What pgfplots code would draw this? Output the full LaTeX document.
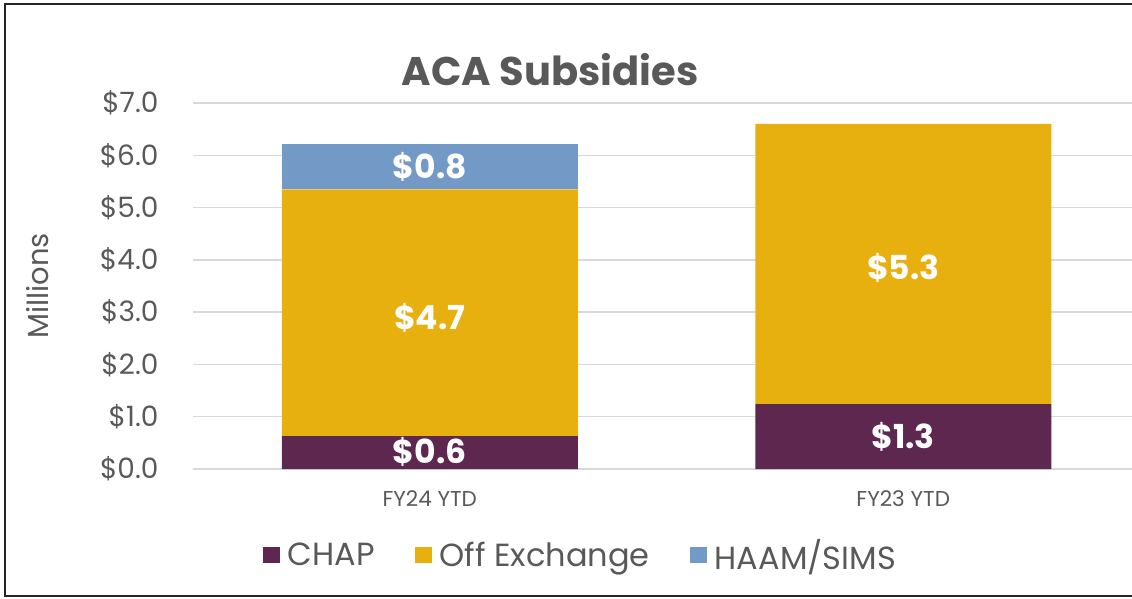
\documentclass[border=0pt]{standalone}
\usepackage{pgfplots}
\pgfplotsset{compat=1.18}
\usepackage{fontspec}
\setmainfont{Poppins}
\definecolor{chapc}{HTML}{5E2750}
\definecolor{offexc}{HTML}{E8B00F}
\definecolor{haamc}{HTML}{7399C6}
\definecolor{txtc}{HTML}{595959}
\definecolor{gridc}{HTML}{D9D9D9}
\begin{document}
\begin{tikzpicture}
\useasboundingbox (0bp,0bp) rectangle (1132bp,599bp);
\draw[line width=2bp, color=black!85] (5bp,3bp) rectangle (1145bp,595bp);
\node[text=txtc, font=\fontsize{40bp}{44bp}\selectfont\bfseries] at (550bp,529bp) {ACA Subsidies};
\begin{axis}[
  at={(193bp,130bp)}, anchor=south west,
  width=947bp, height=366bp, scale only axis,
  xmin=-0.5, xmax=1.5, ymin=0, ymax=7,
  ybar stacked, bar width=296bp,
  axis line style={draw=none},
  major tick length=0pt,
  ymajorgrids, grid style={draw=gridc, line width=1.5bp},
  ytick={0,1,2,3,4,5,6,7},
  yticklabel={\$\pgfmathprintnumber[fixed,fixed zerofill,precision=1]{\tick}},
  /pgf/number format/assume math mode=true,
  yticklabel style={text=txtc, font=\fontsize{28bp}{30bp}\selectfont, xshift=-31bp},
  xtick={0,1}, xticklabels={FY24 YTD, FY23 YTD},
  xticklabel style={text=txtc, font=\fontsize{21.5bp}{23bp}\selectfont, yshift=-18bp},
  ylabel={Millions},
  ylabel style={text=txtc, font=\fontsize{29bp}{32bp}\selectfont, yshift=44bp},
  legend columns=3,
  legend style={at={(0.409,-0.235)}, anchor=center, draw=none, fill=none,
    font=\fontsize{32bp}{36bp}\selectfont, text=txtc,
    /tikz/every odd column/.append style={column sep=6bp},
    /tikz/every even column/.append style={column sep=38bp}},
  legend image code/.code={\fill[#1] (0bp,-8bp) rectangle (17bp,8bp);},
  clip=false,
]
\addplot[fill=chapc, draw=none] coordinates {(0,0.63) (1,1.24)};
\addplot[fill=offexc, draw=none] coordinates {(0,4.72) (1,5.36)};
\addplot[fill=haamc, draw=none] coordinates {(0,0.86) (1,0)};
\legend{CHAP, Off Exchange, HAAM/SIMS}
\end{axis}
\begin{axis}[
  at={(193bp,130bp)}, anchor=south west,
  width=947bp, height=366bp, scale only axis,
  xmin=-0.5, xmax=1.5, ymin=0, ymax=7,
  hide axis, clip=false,
]
\addplot[draw=none, mark=none, point meta=explicit symbolic,
  nodes near coords,
  nodes near coords style={anchor=center, text=white, font=\fontsize{33bp}{35bp}\selectfont\bfseries}]
  coordinates {(0,0.33)[\$0.6] (0,2.89)[\$4.7] (0,5.78)[\$0.8] (1,0.61)[\$1.3] (1,3.84)[\$5.3]};
\end{axis}
\end{tikzpicture}
\end{document}
